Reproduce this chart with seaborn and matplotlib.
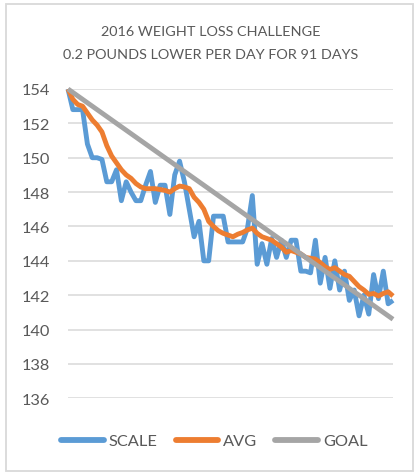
import numpy as np
import pandas as pd
import matplotlib
matplotlib.use("Agg")
import matplotlib.pyplot as plt
from matplotlib.patches import Rectangle
from matplotlib.lines import Line2D
import seaborn as sns

# ---- data ----
title_lines = ["2016 WEIGHT LOSS CHALLENGE", "0.2 POUNDS LOWER PER DAY FOR 91 DAYS"]
series_names = ["SCALE", "AVG", "GOAL"]

scale = [154.0, 152.8, 152.8, 152.8, 150.8, 150.0, 150.0, 149.9, 148.6, 148.6,
         149.3, 147.5, 148.6, 148.0, 147.5, 147.5, 148.4, 149.2, 147.4, 148.4,
         148.4, 146.7, 149.0, 149.8, 148.6, 147.0, 145.4, 146.3, 144.0, 144.0,
         146.6, 146.6, 146.6, 145.1, 145.1, 145.1, 145.1, 145.9, 147.8, 143.8,
         145.0, 143.8, 145.3, 144.2, 145.2, 144.2, 145.2, 145.2, 143.4, 143.4,
         143.3, 145.2, 142.7, 144.2, 142.4, 144.0, 142.3, 143.4, 141.7, 142.3,
         140.8, 142.0, 140.9, 143.2, 141.8, 143.4, 141.5, 141.7]

avg = [154.0, 153.4, 153.1, 153.0, 152.6, 152.2, 151.9, 151.5, 150.7, 150.1,
       149.7, 149.3, 149.0, 148.8, 148.5, 148.3, 148.2, 148.2, 148.2, 148.15,
       148.1, 148.0, 148.2, 148.35, 148.3, 148.2, 147.7, 147.4, 147.0, 146.3,
       146.0, 145.75, 145.6, 145.5, 145.4, 145.55, 145.65, 145.8, 145.9, 145.6,
       145.4, 145.3, 145.2, 145.0, 144.8, 144.5, 144.6, 144.5, 144.4, 144.2,
       144.15, 144.1, 143.9, 143.65, 143.5, 143.6, 143.4, 143.2, 143.1, 142.8,
       142.5, 142.3, 142.05, 142.1, 141.95, 142.1, 142.2, 141.95]

goal = [154.0, 153.8, 153.6, 153.4, 153.2, 153.0, 152.8, 152.6, 152.4, 152.2,
        152.0, 151.8, 151.6, 151.4, 151.2, 151.0, 150.8, 150.6, 150.4, 150.2,
        150.0, 149.8, 149.6, 149.4, 149.2, 149.0, 148.8, 148.6, 148.4, 148.2,
        148.0, 147.8, 147.6, 147.4, 147.2, 147.0, 146.8, 146.6, 146.4, 146.2,
        146.0, 145.8, 145.6, 145.4, 145.2, 145.0, 144.8, 144.6, 144.4, 144.2,
        144.0, 143.8, 143.6, 143.4, 143.2, 143.0, 142.8, 142.6, 142.4, 142.2,
        142.0, 141.8, 141.6, 141.4, 141.2, 141.0, 140.8, 140.6]

y_ticks = [136, 138, 140, 142, 144, 146, 148, 150, 152, 154]

colors = {"SCALE": "#5B9BD5", "AVG": "#ED7D31", "GOAL": "#A5A5A5"}
text_color = "#595959"
grid_color = "#D9D9D9"

days = list(range(len(scale)))
df = pd.concat([
    pd.DataFrame({"day": days, "weight": scale, "series": "SCALE"}),
    pd.DataFrame({"day": days, "weight": avg, "series": "AVG"}),
    pd.DataFrame({"day": days, "weight": goal, "series": "GOAL"}),
], ignore_index=True)

# ---- style ----
sns.set_theme(style="white")
plt.rcParams["font.family"] = ["Lato", "DejaVu Sans"]

W, H = 420, 477
fig = plt.figure(figsize=(W / 100, H / 100), dpi=100)
ax = fig.add_axes([68 / W, 1 - 399.3 / H, (393 - 68) / W, (399.3 - 90) / H])

sns.lineplot(data=df, x="day", y="weight", hue="series", hue_order=series_names,
             palette=colors, linewidth=3.5, ax=ax, legend=False, sort=False,
             solid_capstyle="butt", solid_joinstyle="round")
for ln in ax.get_lines():
    ln.set_clip_on(False)
    ln.set_zorder(3)

ax.set_xlim(0, len(scale) - 1)
ax.set_ylim(136, 154)
ax.set_yticks(y_ticks)
ax.set_yticklabels([str(t) for t in y_ticks])
ax.set_xticks([])
ax.set_xlabel("")
ax.set_ylabel("")
ax.grid(axis="y", color=grid_color, linewidth=1.1)
ax.set_axisbelow(True)
for s in ax.spines.values():
    s.set_visible(False)
ax.tick_params(axis="y", length=0, pad=13, labelsize=11.8, labelcolor=text_color)
ax.set_facecolor("none")

# title (two centred lines)
fig.text(211 / W, 1 - 32.5 / H, title_lines[0], ha="center", va="center",
         fontsize=10.4, color=text_color)
fig.text(211 / W, 1 - 55 / H, title_lines[1], ha="center", va="center",
         fontsize=10.4, color=text_color)

# legend
handles = [Line2D([0], [0], color=colors[n], linewidth=4.2, solid_capstyle="round")
           for n in series_names]
leg = fig.legend(handles, series_names, loc="center", ncol=3,
                 bbox_to_anchor=(214.5 / W, 1 - 442 / H), frameon=False,
                 fontsize=11.8, handlelength=2.6, handletextpad=0.3,
                 columnspacing=1.1, borderaxespad=0)
for t in leg.get_texts():
    t.set_color(text_color)

# chart-area border
fig.patches.append(Rectangle((6 / W, 5 / H), 407 / W, 467 / H, transform=fig.transFigure,
                             fill=False, edgecolor=grid_color, linewidth=1.3))

fig.savefig("out.png", dpi=100)
